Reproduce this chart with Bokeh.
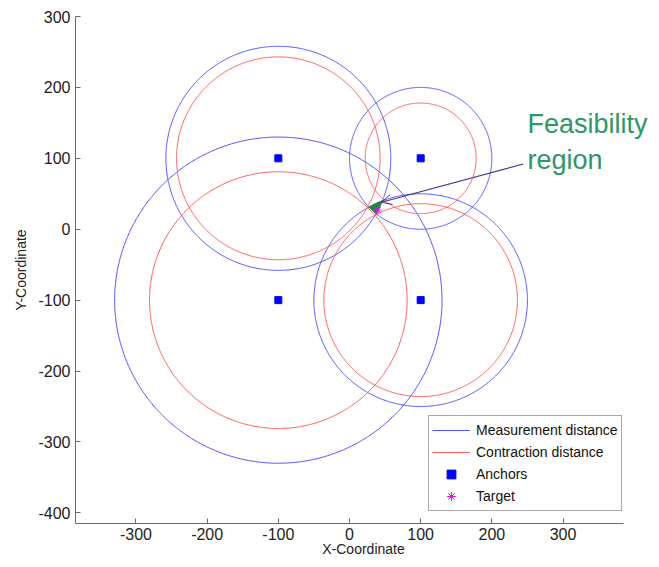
import numpy as np
from bokeh.plotting import figure
from bokeh.models import (Legend, LegendItem, Arrow, OpenHead, Label,
                          FixedTicker, Range1d, PrintfTickFormatter)
from bokeh.embed import file_html
from bokeh.resources import INLINE

# ---- data ----
anchor_x = [-100, 100, -100, 100]
anchor_y = [100, 100, -100, -100]
measurement_radius = [158, 100, 230, 150]
contraction_radius = [143, 78, 181, 136]
target_x = [40]
target_y = [27]
x_ticks = [-300, -200, -100, 0, 100, 200, 300]
y_ticks = [-400, -300, -200, -100, 0, 100, 200, 300]
x_limits = [-385, 385]
y_limits = [-415, 300]
note_lines = ["Feasibility", "region"]
note_x = [250, 250]
note_y = [148, 97]
pointer_from = [244, 92]
pointer_to = [45, 38]

FONT = "Liberation Sans"
BLUE = "#5050FF"
RED = "#FF5A5A"

W, H = 651, 559
LEFT, TOP, BOTTOM = 75, 16, 35
frame_w_axis = 548                      # width taken by the drawn x-axis
px_per_unit = frame_w_axis / (x_limits[1] - x_limits[0])
x_view_max = x_limits[0] + (W - LEFT) / px_per_unit   # extra room for the note

theta = np.linspace(0, 2 * np.pi, 721)


def circle_lines(cx, cy, rs):
    xs = [list(x + r * np.cos(theta)) for x, r in zip(cx, rs)]
    ys = [list(y + r * np.sin(theta)) for y, r in zip(cy, rs)]
    return xs, ys


# feasibility region = intersection of all measurement discs
fine = np.linspace(0, 2 * np.pi, 20000)
px, py = [], []
for i, (cx, cy, r) in enumerate(zip(anchor_x, anchor_y, measurement_radius)):
    bx = cx + r * np.cos(fine)
    by = cy + r * np.sin(fine)
    keep = np.ones_like(bx, dtype=bool)
    for j, (ox, oy, orad) in enumerate(zip(anchor_x, anchor_y, measurement_radius)):
        if j != i:
            keep &= (bx - ox) ** 2 + (by - oy) ** 2 <= orad ** 2
    px.extend(bx[keep]); py.extend(by[keep])
px = np.array(px); py = np.array(py)
ang = np.arctan2(py - py.mean(), px - px.mean())
order = np.argsort(ang)
region_x = list(px[order]); region_y = list(py[order])

p = figure(width=W, height=H,
           x_range=Range1d(x_limits[0], x_view_max), y_range=Range1d(*y_limits),
           output_backend="svg", toolbar_location=None,
           min_border_left=LEFT, min_border_top=TOP,
           min_border_right=0, min_border_bottom=BOTTOM)
p.xgrid.visible = False
p.ygrid.visible = False
p.outline_line_color = None
p.background_fill_color = "white"
p.border_fill_color = "white"

bx, by = circle_lines(anchor_x, anchor_y, measurement_radius)
rx, ry = circle_lines(anchor_x, anchor_y, contraction_radius)
r_blue = p.multi_line(bx, by, line_color=BLUE, line_width=1)
r_red = p.multi_line(rx, ry, line_color=RED, line_width=1)
p.patch(region_x, region_y, fill_color="#1E8A3E", line_color="#1E8A3E", line_width=1)
r_anch = p.scatter(anchor_x, anchor_y, marker="square", size=7,
                   fill_color="#0000FF", line_color="#0000FF")
r_targ = p.scatter(target_x, target_y, marker="asterisk", size=8,
                   line_color="#FF00FF", line_width=1)

for ax, ticks, lab in ((p.xaxis, x_ticks, "X-Coordinate"), (p.yaxis, y_ticks, "Y-Coordinate")):
    ax.ticker = FixedTicker(ticks=ticks)
    ax.formatter = PrintfTickFormatter(format="%d")
    ax.axis_label = lab
    ax.axis_label_text_font = FONT
    ax.axis_label_text_font_size = "14px"
    ax.axis_label_text_font_style = "normal"
    ax.axis_label_text_color = "#222222"
    ax.major_label_text_font = FONT
    ax.major_label_text_font_size = "16px"
    ax.major_label_text_color = "#222222"
    ax.axis_line_color = "#6a6a6a"
    ax.major_tick_line_color = "#6a6a6a"
    ax.major_tick_in = 5
    ax.major_tick_out = 0
    ax.minor_tick_in = 0
    ax.minor_tick_out = 0
p.xaxis.bounds = (x_limits[0], x_limits[1])
p.xaxis.major_label_standoff = 4
p.xaxis.axis_label_standoff = -2
p.yaxis.major_label_standoff = 5
p.yaxis.axis_label_standoff = 6

legend = Legend(items=[
    LegendItem(label="Measurement distance", renderers=[r_blue]),
    LegendItem(label="Contraction distance", renderers=[r_red]),
    LegendItem(label="Anchors", renderers=[r_anch]),
    LegendItem(label="Target", renderers=[r_targ]),
], location=(353, 12))
legend.margin = 0
legend.padding = 3
legend.spacing = 0
legend.glyph_width = 38
legend.glyph_height = 22
legend.label_height = 22
legend.label_standoff = 6
legend.label_text_font = FONT
legend.label_text_font_size = "14px"
legend.label_text_color = "#111111"
legend.border_line_color = "#555555"
legend.border_line_width = 1
legend.background_fill_color = "white"
legend.background_fill_alpha = 1
p.add_layout(legend)

p.add_layout(Arrow(end=OpenHead(size=10, line_color="#3C3C96", line_width=1),
                   x_start=pointer_from[0], y_start=pointer_from[1],
                   x_end=pointer_to[0], y_end=pointer_to[1],
                   line_color="#3C3C96", line_width=1.2))

for t, lx, ly in zip(note_lines, note_x, note_y):
    p.add_layout(Label(x=lx, y=ly, text=t, text_font=FONT, text_font_size="27px",
                       text_color="#2F9668", text_baseline="alphabetic"))

open("out.html", "w").write(file_html(p, INLINE))
